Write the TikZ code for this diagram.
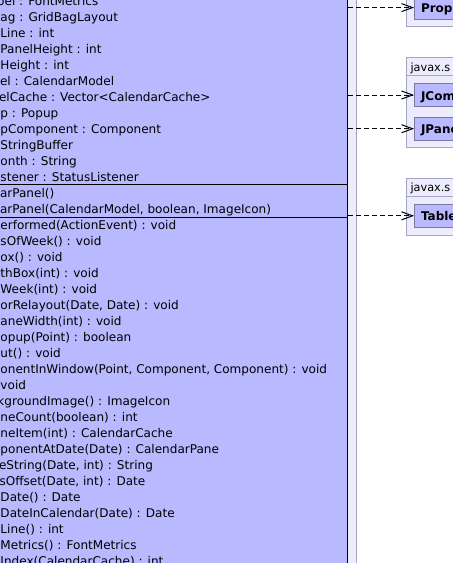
\documentclass[tikz,border=0pt]{standalone}
\usepackage{fontspec}
\setmainfont{DejaVu Sans}
\usepackage{xcolor}
\usetikzlibrary{arrows.meta,positioning}

\definecolor{classfill}{RGB}{185,185,255}
\definecolor{classline}{RGB}{120,120,160}
\definecolor{pkgfill}{RGB}{236,236,252}
\definecolor{pkgline}{RGB}{165,165,195}

\begin{document}
\begin{tikzpicture}[x=1pt,y=-1pt,line width=1pt,
    member/.style={anchor=base west, inner sep=0pt, font=\fontsize{12.05}{14}\selectfont},
    classbox/.style={draw=classline, fill=classfill, anchor=west, text width=70pt, align=left,
        inner xsep=6.5pt, inner ysep=0pt, minimum height=23pt, text height=10pt, text depth=0pt,
        font=\bfseries\fontsize{12}{14}\selectfont},
    pkgbox/.style={draw=pkgline, fill=pkgfill},
    pkgname/.style={anchor=base west, inner sep=0pt, font=\fontsize{11.3}{14}\selectfont},
    dep/.style={dash pattern=on 5pt off 3pt, -{Straight Barb[length=11pt,width=8pt]}}]
    \useasboundingbox (0,0) rectangle (453,563);
    \clip (0,0) rectangle (453,563);

    % Enclosing package and the panel class
    \draw[pkgbox] (-20,-20) rectangle (356,600);
    \node[draw=black, fill=classfill, anchor=north east, minimum width=368pt, minimum height=620pt,
        inner sep=0pt] (calpanel) at (348,-20) {};

    % Attributes
    \foreach \k/\dx/\txt in {0/-3.5/{bel : FontMetrics}, 1/0/{ag : GridBagLayout}, 2/0/{Line : int},
        3/0/{PanelHeight : int}, 4/0/{Height : int}, 5/-0.5/{el : CalendarModel},
        6/-1.5/{elCache : Vector<CalendarCache>}, 7/0/{p : Popup}, 8/0/{pComponent : Component},
        9/0/{StringBuffer}, 10/0/{onth : String}, 11/0/{stener : StatusListener}} {
        \node[member] (attr\k) at (\dx,5+16*\k) {\txt};
    }
    \draw (-20,184.5) -- (calpanel.east |- 0,184.5);

    % Constructors
    \foreach \k/\dx/\txt in {12/-0.5/{arPanel()}, 13/-0.5/{arPanel(CalendarModel, boolean, ImageIcon)}} {
        \node[member] (ctor\k) at (\dx,5+16*\k) {\txt};
    }
    \draw (-20,217.5) -- (calpanel.east |- 0,217.5);

    % Operations
    \foreach \k/\dx/\txt in {14/0/{erformed(ActionEvent) : void}, 15/0/{sOfWeek() : void},
        16/0/{ox() : void}, 17/0/{thBox(int) : void}, 18/0/{Week(int) : void},
        19/0/{orRelayout(Date, Date) : void}, 20/0/{aneWidth(int) : void},
        21/0/{opup(Point) : boolean}, 22/0/{ut() : void},
        23/0/{onentInWindow(Point, Component, Component) : void}, 24/0/{void},
        25/-3/{kgroundImage() : ImageIcon}, 26/0/{neCount(boolean) : int},
        27/0/{neItem(int) : CalendarCache}, 28/0/{ponentAtDate(Date) : CalendarPane},
        29/-1.5/{eString(Date, int) : String}, 30/-1/{sOffset(Date, int) : Date},
        31/0/{Date() : Date}, 32/0/{DateInCalendar(Date) : Date}, 33/0/{Line() : int},
        34/0/{Metrics() : FontMetrics}, 35/0/{Index(CalendarCache) : int}} {
        \node[member] (op\k) at (\dx,5+16*\k) {\txt};
    }

    % Packages on the right
    \draw[pkgbox] (406,-30) rectangle (470,26.7);
    \node[classbox, minimum height=23.5pt] (prop) at (414,7.6) {Prop};

    \draw[pkgbox] (406,57.3) rectangle (470,147.7);
    \draw[draw=pkgline] (406,75) -- (470,75);
    \node[pkgname] (swing) at (410,71.5) {javax.s};
    \node[classbox, minimum height=23.4pt] (jcom) at (414,95) {JCom};
    \node[classbox, minimum height=22.7pt] (jpane) at (414,128.7) {JPane};

    \draw[pkgbox] (406,178.3) rectangle (470,235);
    \draw[draw=pkgline] (406,196.7) -- (470,196.7);
    \node[pkgname] (table) at (410,191.5) {javax.s};
    \node[classbox] (tbl) at (414,215.8) {Table};

    % Dependencies
    \draw[dep] (calpanel.east |- prop.west) -- (prop.west);
    \draw[dep] (calpanel.east |- jcom.west) -- (jcom.west);
    \draw[dep] (calpanel.east |- jpane.west) -- (jpane.west);
    \draw[dep] (calpanel.east |- tbl.west) -- (tbl.west);
\end{tikzpicture}
\end{document}
